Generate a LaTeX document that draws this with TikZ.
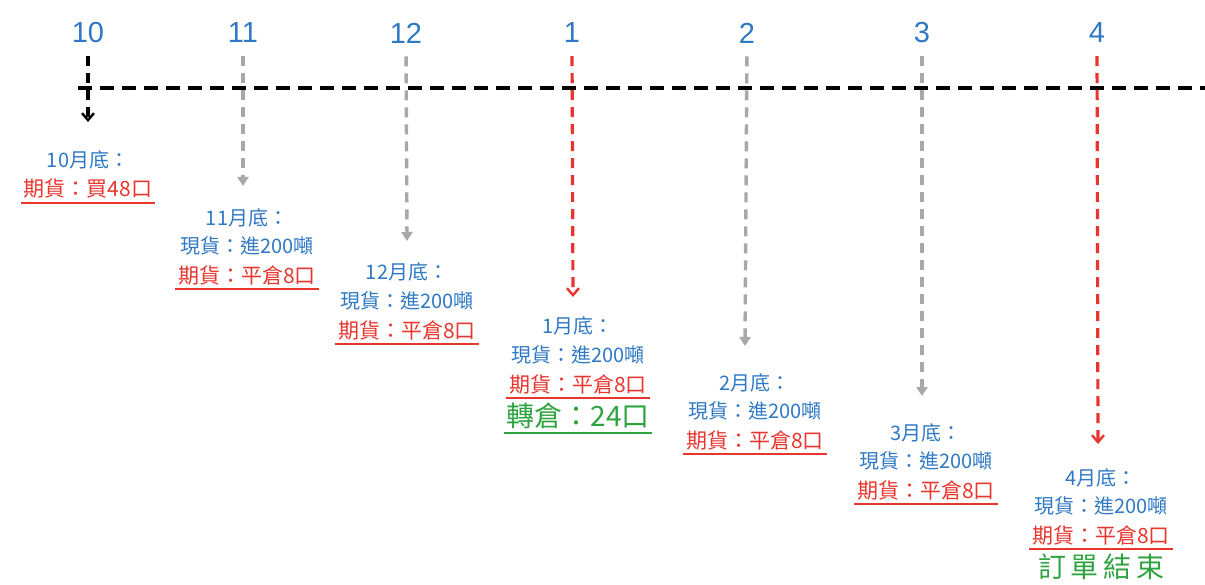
\documentclass[tikz,border=0pt]{standalone}
\usepackage{fontspec}
\setmainfont{Liberation Sans}
\newfontfamily\cjk{Noto Sans CJK TC}
\usetikzlibrary{arrows.meta}
\definecolor{mblue}{HTML}{2E78C4}
\definecolor{mred}{HTML}{E8352E}
\definecolor{mgreen}{HTML}{2FA33F}
\definecolor{mgray}{HTML}{A8A8A8}
\tikzset{
  month/.style={text=mblue, font=\fontsize{29}{34}\selectfont, inner sep=0pt},
  head/.style={text=mblue, font=\cjk\fontsize{20}{24}\selectfont, inner sep=0pt},
  spot/.style={text=mblue, font=\cjk\fontsize{20}{24}\selectfont, inner sep=0pt},
  fut/.style={text=mred, font=\cjk\fontsize{21}{25}\selectfont, inner xsep=3pt, inner ysep=4pt},
  roll/.style={text=mgreen, font=\cjk\fontsize{28}{32}\selectfont, inner xsep=2pt, inner ysep=4pt},
  uline/.style={line width=1.8pt},
  axis/.style={line width=4.8pt, dash pattern=on 14pt off 8pt},
  varrow/.style={line width=3.2pt, dash pattern=on 10pt off 7pt, shorten <=13pt, -{Straight Barb[length=7pt,width=12pt,line width=2.4pt]}},
  garrow/.style={line width=3.4pt, mgray, dash pattern=on 10pt off 7pt, shorten <=13pt, -{Triangle[length=9pt,width=11pt]}},
}
\begin{document}
\begin{tikzpicture}[x=1pt,y=-1pt]
\useasboundingbox (0,0) rectangle (1205,585);
% month labels
\node[month] (m10) at (88,33) {10};
\node[month] (m11) at (243,33) {11};
\node[month] (m12) at (406,33) {12};
\node[month] (m1) at (572,33) {1};
\node[month] (m2) at (747,33) {2};
\node[month] (m3) at (922,33) {3};
\node[month] (m4) at (1097,33) {4};
% arrow ends
\coordinate (e10) at (88,122);
\coordinate (e11) at (243,186);
\coordinate (e12) at (407,241);
\coordinate (e1) at (573,297);
\coordinate (e2) at (745,346);
\coordinate (e3) at (922,396);
\coordinate (e4) at (1098,444);
\coordinate (tl) at (78,88);
\coordinate (tr) at (1205,88);
% vertical arrows
\draw[garrow] (m11.south) -- (e11);
\draw[garrow] (m12.south) -- (e12);
\draw[garrow] (m2.south) -- (e2);
\draw[garrow] (m3.south) -- (e3);
\draw[varrow, mred] (m1.south) -- (e1);
\draw[varrow, mred] (m4.south) -- (e4);
\draw[varrow, black] (m10.south) -- (e10);
% time axis
\draw[axis] (tl) -- (tr);
% October
\node[head] (h10) at (88,160) {10月底：};
\node[fut] (f10) at (88,189) {期貨：買48口};
% November
\node[head] (h11) at (247,218) {11月底：};
\node[spot] (s11) at (247,246) {現貨：進200噸};
\node[fut] (f11) at (247,275) {期貨：平倉8口};
% December
\node[head] (h12) at (407,272) {12月底：};
\node[spot] (s12) at (407,301) {現貨：進200噸};
\node[fut] (f12) at (407,330) {期貨：平倉8口};
% January
\node[head] (h1) at (578,326) {1月底：};
\node[spot] (s1) at (578,355) {現貨：進200噸};
\node[fut] (f1) at (578,384) {期貨：平倉8口};
\node[roll] (r1) at (578,416) {轉倉：24口};
% February
\node[head] (h2) at (755,383) {2月底：};
\node[spot] (s2) at (755,411) {現貨：進200噸};
\node[fut] (f2) at (755,440) {期貨：平倉8口};
% March
\node[head] (h3) at (926,433) {3月底：};
\node[spot] (s3) at (926,461) {現貨：進200噸};
\node[fut] (f3) at (926,490) {期貨：平倉8口};
% April
\node[head] (h4) at (1101,478) {4月底：};
\node[spot] (s4) at (1101,506) {現貨：進200噸};
\node[fut] (f4) at (1101,535) {期貨：平倉8口};
\node[text=mgreen, font=\cjk\fontsize{28}{32}\selectfont, inner sep=0pt] (r4) at (1101,567) {訂\,單\,結\,束};
% underlines
\foreach \n in {f10,f11,f12,f1,f2,f3,f4}{
  \draw[uline, mred] (\n.south west) -- (\n.south east);
}
\draw[uline, mgreen] (r1.south west) -- (r1.south east);
\end{tikzpicture}
\end{document}
